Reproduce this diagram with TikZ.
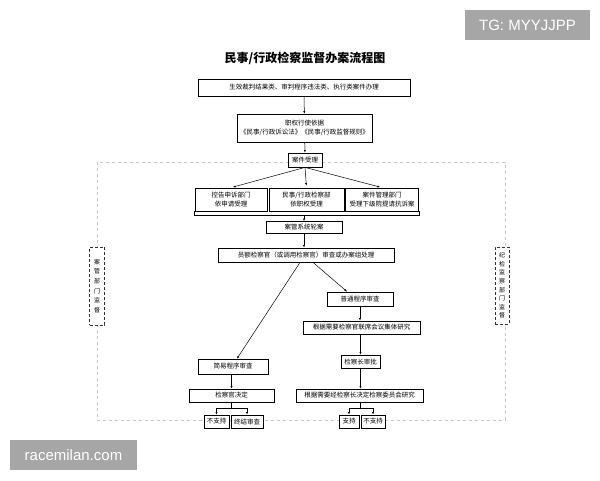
\documentclass[tikz,border=0pt]{standalone}
\usepackage{fontspec}
\setmainfont{Noto Sans CJK SC}
\newfontfamily\wmfont{Liberation Sans}
\usetikzlibrary{arrows.meta}
\definecolor{wmgray}{RGB}{166,166,166}
\begin{document}
\begin{tikzpicture}[x=1pt,y=-1pt,
  box/.style={draw,fill=white,line width=0.8pt,inner sep=1pt,align=center,font=\fontsize{6.5}{9.5}\selectfont},
  arr/.style={-{Latex[length=2.6pt,width=2.2pt]},line width=0.5pt},
  ln/.style={line width=0.5pt},
  frame/.style={draw=gray!45,dashed,line width=0.6pt},
  monbox/.style={draw=black!80,densely dashed,fill=white,line width=0.6pt,inner sep=1pt,align=center,font=\fontsize{6}{9.6}\selectfont},
  wm/.style={fill=wmgray,text=white,inner sep=0pt,font=\wmfont\fontsize{15}{15}\selectfont}]
\useasboundingbox (0,0) rectangle (600,480);
\draw[frame] (97,162) rectangle (505,420);
\node[font=\fontsize{12}{12}\selectfont\bfseries] (title) at (305,58) {民事/行政检察监督办案流程图};
\node[box,minimum width=212,minimum height=17] (cases) at (304,87.5) {生效裁判结果类、审判程序违法类、执行类案件办理};
\node[box,minimum width=135,minimum height=28] (basis) at (304.5,128) {职权行使依据\\《民事/行政诉讼法》《民事/行政监督规则》};
\node[box,minimum width=34,minimum height=14] (accept) at (305,160) {案件受理};
\node[box,minimum width=72,minimum height=23] (kongshen) at (231,199.5) {控告申诉部门\\依申请受理};
\node[box,minimum width=75,minimum height=23] (minxing) at (306.5,199.5) {民事/行政检察部\\依职权受理};
\node[box,minimum width=73,minimum height=23] (anguan) at (382,199.5) {案件管理部门\\受理下级院提请抗诉案};
\node[box,minimum width=76,minimum height=12] (lunan) at (304,227.5) {案管系统轮案};
\node[box,minimum width=176,minimum height=14] (review) at (306,255) {员额检察官（或调用检察官）审查或办案组处理};
\node[box,minimum width=66,minimum height=14] (ordinary) at (360,299) {普通程序审查};
\node[box,minimum width=117,minimum height=13] (joint) at (361.5,327.5) {根据需要检察官联席会议集体研究};
\node[box,minimum width=70,minimum height=15] (simple) at (233,366.5) {简易程序审查};
\node[box,minimum width=39,minimum height=13] (approve) at (360.5,361.5) {检察长审批};
\node[box,minimum width=85,minimum height=13] (decide) at (231.5,395.5) {检察官决定};
\node[box,minimum width=127,minimum height=13] (committee) at (359.5,395.5) {根据需要经检察长决定检察委员会研究};
\node[box,minimum width=25,minimum height=13] (nosupa) at (216.5,421.5) {不支持};
\node[box,minimum width=32,minimum height=13] (endrev) at (247,421.5) {终结审查};
\node[box,minimum width=20,minimum height=13] (sup) at (349,421.5) {支持};
\node[box,minimum width=24,minimum height=13] (nosupb) at (373,421.5) {不支持};
\node[monbox,minimum width=15,minimum height=78] (lmon) at (97,286) {案\\管\\部\\门\\监\\督};
\node[monbox,minimum width=14,minimum height=77,font=\fontsize{6}{8.6}\selectfont] (rmon) at (502,285.5) {纪\\检\\监\\察\\部\\门\\监\\督};
\node[wm,minimum width=125,minimum height=30] (tg) at (527.5,25) {TG: MYYJJPP};
\node[wm,minimum width=127,minimum height=30] (site) at (73.5,455) {racemilan.com};
\draw[arr] (cases) -- (basis);
\draw[arr] (basis) -- (accept);
\draw[arr,shorten >=2pt] (accept.south) -- (kongshen.north);
\draw[arr,shorten >=2pt] (accept.south) -- (minxing.north);
\draw[arr,shorten >=2pt] (accept.south) -- (anguan.north);
\draw[ln] (kongshen.south west) -- ++(0,4) coordinate (bl) -- (bl -| anguan.south east) -- (anguan.south east);
\draw[arr] (lunan.north |- bl) -- (lunan.north);
\draw[arr] (lunan) -- (lunan |- review.north);
\draw[arr] ([xshift=-6pt]review.south) -- ([xshift=4pt]simple.north);
\draw[arr] ([xshift=7pt]review.south) -- ([xshift=-13pt]ordinary.north);
\draw[arr] (ordinary) -- (ordinary |- joint.north);
\draw[arr] (approve |- joint.south) -- (approve.north);
\draw[arr] (approve) -- (approve |- committee.north);
\draw[arr] (decide |- simple.south) -- (decide.north);
\draw[ln] (decide.south) -- ++(0,6) coordinate (dj);
\draw[arr] (dj) -| (nosupa.north);
\draw[arr] (dj) -| (endrev.north);
\draw[ln] (committee.south -| approve) -- ++(0,6) coordinate (cj);
\draw[arr] (cj) -| (sup.north);
\draw[arr] (cj) -| (nosupb.north);
\end{tikzpicture}
\end{document}
